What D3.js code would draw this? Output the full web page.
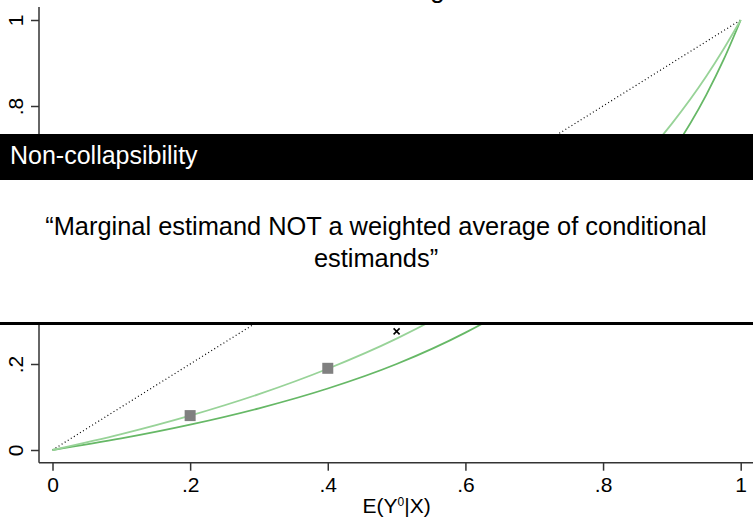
<!DOCTYPE html>
<html>
<head>
<meta charset="utf-8">
<script src="https://cdn.jsdelivr.net/npm/d3@7"></script>
<style>
  body { margin: 0; background: #fff; }
  svg { display: block; font-family: "Liberation Sans", Arial, sans-serif; }
</style>
</head>
<body>
<div id="chart"></div>
<script>
// values: E(Y1|X) against E(Y0|X)
var xVals  = [0, 0.1, 0.2, 0.3, 0.4, 0.5, 0.6, 0.65, 0.7, 0.75, 0.8, 0.85, 0.9, 0.95, 0.975, 1];
var lightY = [0, 0.037, 0.080, 0.130, 0.189, 0.259, 0.344, 0.394, 0.450, 0.512, 0.583, 0.665, 0.759, 0.869, 0.932, 1];
var darkY  = [0, 0.027, 0.059, 0.097, 0.143, 0.200, 0.273, 0.317, 0.368, 0.429, 0.500, 0.586, 0.692, 0.826, 0.907, 1];
var diagX = [0, 1];
var diagY = [0, 1];
var squareX = [0.2, 0.4];
var squareY = [0.080, 0.190];
var crossX = [0.5];
var crossY = [0.276];
var xTicks = [0, 0.2, 0.4, 0.6, 0.8, 1];
var yTicks = [0, 0.2, 0.4, 0.6, 0.8, 1];

var W = 753, H = 518;

var svg = d3.select("#chart")
  .append("svg")
  .attr("width", W)
  .attr("height", H);

//SCALES
var x = d3.scaleLinear().domain([0, 1]).range([52.5, 740.7]);
var y = d3.scaleLinear().domain([0, 1]).range([450, 20]);

var fmt = function(d) {
  if (d === 0) return "0";
  if (d === 1) return "1";
  return d3.format(".1f")(d).replace(/^0/, "");
};

// title (mostly off the top of the frame)
svg.append("text")
  .attr("x", 350)
  .attr("y", -2.5)
  .attr("text-anchor", "middle")
  .style("font-size", "26px")
  .text("Conditional vs marginal");

// axis lines
svg.append("line")
  .attr("x1", 39).attr("x2", W)
  .attr("y1", 462.7).attr("y2", 462.7)
  .attr("stroke", "#333").attr("stroke-width", 1.5);
svg.append("line")
  .attr("x1", 39).attr("x2", 39)
  .attr("y1", 7).attr("y2", 462.7)
  .attr("stroke", "#333").attr("stroke-width", 1.5);

//XAXIS
var xAxis = d3.axisBottom(x).tickValues(xTicks).tickFormat(fmt).tickSize(8).tickSizeOuter(0).tickPadding(6);
var gx = svg.append("g")
  .attr("transform", "translate(0," + 462.7 + ")")
  .call(xAxis);
gx.select(".domain").remove();
gx.selectAll("line").attr("stroke", "#333").attr("stroke-width", 1.5);
gx.selectAll("text").style("font-size", "21px").attr("fill", "#000")
  .style("font-family", "'Liberation Sans', Arial, sans-serif");

//YAXIS
var yAxis = d3.axisLeft(y).tickValues(yTicks).tickFormat(fmt).tickSize(8).tickSizeOuter(0);
var gy = svg.append("g")
  .attr("transform", "translate(39,0)")
  .call(yAxis);
gy.select(".domain").remove();
gy.selectAll("line").attr("stroke", "#333").attr("stroke-width", 1.5);
gy.selectAll("text")
  .attr("x", 0).attr("y", -16.5).attr("dy", 0)
  .attr("transform", "rotate(-90)")
  .attr("text-anchor", "middle")
  .attr("fill", "#000")
  .style("font-size", "21px")
  .style("font-family", "'Liberation Sans', Arial, sans-serif");

// x axis title
var xt = svg.append("text")
  .attr("x", (x(0) + x(1)) / 2)
  .attr("y", 513)
  .attr("text-anchor", "middle")
  .style("font-size", "21px");
xt.append("tspan").text("E(Y");
xt.append("tspan").attr("dy", -7).style("font-size", "12px").text("0");
xt.append("tspan").attr("dy", 7).text("|X)");

// lines
var line = d3.line()
  .x(function(d) { return x(d[0]); })
  .y(function(d) { return y(d[1]); })
  .curve(d3.curveMonotoneX);

svg.append("path")
  .datum(d3.zip(diagX, diagY))
  .attr("d", line)
  .attr("fill", "none")
  .attr("stroke", "#000")
  .attr("stroke-width", 1.2)
  .attr("stroke-dasharray", "1,2.6");

svg.append("path")
  .datum(d3.zip(xVals, darkY))
  .attr("d", line)
  .attr("fill", "none")
  .attr("stroke", "#66b866")
  .attr("stroke-width", 1.8);

svg.append("path")
  .datum(d3.zip(xVals, lightY))
  .attr("d", line)
  .attr("fill", "none")
  .attr("stroke", "#98d398")
  .attr("stroke-width", 1.8);

// markers
svg.selectAll(".sq")
  .data(d3.zip(squareX, squareY))
  .enter().append("rect")
  .attr("class", "sq")
  .attr("x", function(d) { return x(d[0]) - 5.5; })
  .attr("y", function(d) { return y(d[1]) - 5.5; })
  .attr("width", 11)
  .attr("height", 11)
  .attr("fill", "#808080");

svg.selectAll(".cross")
  .data(d3.zip(crossX, crossY))
  .enter().append("path")
  .attr("class", "cross")
  .attr("d", function(d) {
    var cx = x(d[0]), cy = y(d[1]), r = 3;
    return "M" + (cx - r) + "," + (cy - r) + "L" + (cx + r) + "," + (cy + r) +
           "M" + (cx - r) + "," + (cy + r) + "L" + (cx + r) + "," + (cy - r);
  })
  .attr("stroke", "#000")
  .attr("stroke-width", 1.6);

// overlay box
svg.append("rect")
  .attr("x", 0).attr("y", 134).attr("width", W).attr("height", 46)
  .attr("fill", "#000");
svg.append("text")
  .attr("x", 10).attr("y", 164)
  .attr("fill", "#fff")
  .style("font-size", "25px")
  .text("Non-collapsibility");
svg.append("rect")
  .attr("x", 0).attr("y", 180).attr("width", W).attr("height", 142)
  .attr("fill", "#fff");
svg.append("rect")
  .attr("x", 0).attr("y", 322).attr("width", W).attr("height", 3)
  .attr("fill", "#000");

svg.append("text")
  .attr("x", 376).attr("y", 235)
  .attr("text-anchor", "middle")
  .style("font-size", "25.4px")
  .text("\u201CMarginal estimand NOT a weighted average of conditional");
svg.append("text")
  .attr("x", 376).attr("y", 267)
  .attr("text-anchor", "middle")
  .style("font-size", "25.4px")
  .text("estimands\u201D");
</script>
</body>
</html>
